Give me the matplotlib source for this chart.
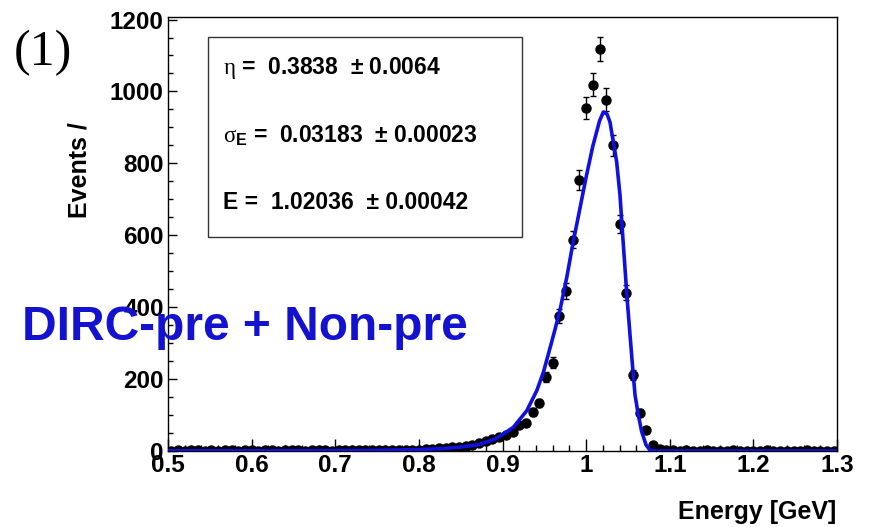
import numpy as np
import matplotlib
matplotlib.use("Agg")
import matplotlib.pyplot as plt
from matplotlib.patches import Rectangle
from matplotlib.ticker import MultipleLocator

plt.rcParams['font.family'] = ['Liberation Sans', 'DejaVu Sans']
plt.rcParams['mathtext.fontset'] = 'custom'
plt.rcParams['mathtext.rm'] = 'Liberation Serif'
plt.rcParams['mathtext.it'] = 'Liberation Serif:italic'
plt.rcParams['mathtext.bf'] = 'Liberation Sans:bold'

# histogram: 100 bins from 0.5 to 1.3 GeV
bin_edges = np.linspace(0.5, 1.3, 101)
counts = [1, 2, 1, 3, 2, 1, 2, 1, 3, 2,
          1, 2, 2, 1, 3, 2, 1, 2, 3, 2,
          1, 2, 2, 3, 1, 2, 3, 2, 4, 3,
          2, 3, 4, 3, 2, 4, 3, 4,
          5, 6, 7, 8, 10, 12, 14, 18, 23, 28,
          33, 40, 44, 54, 72, 77, 109, 134, 206, 246,
          375, 445, 588, 753,
          955, 1019, 1118, 977, 850, 632, 440, 212, 107, 58,
          17, 5, 3,
          2, 1, 2, 1, 1, 2, 1, 0, 1, 2,
          1, 1, 0, 1, 2, 1, 1, 0, 1, 1,
          2, 1, 0, 1, 1]

# fitted curve
fit_x = [0.50, 0.60, 0.70, 0.75, 0.80, 0.83, 0.85, 0.87, 0.89, 0.90,
         0.913, 0.929, 0.941, 0.949, 0.957, 0.963, 0.969, 0.977, 0.984, 0.992,
         1.000, 1.008, 1.016, 1.0206, 1.025, 1.0285, 1.0365, 1.0405, 1.0437, 1.0465,
         1.0493, 1.0525, 1.0557, 1.0585, 1.0624, 1.0664, 1.0716, 1.0764, 1.085, 1.10, 1.30]
fit_y = [0.5, 0.8, 1.2, 2, 4, 7, 11, 17, 32, 46,
         66, 112, 168, 220, 288, 340, 395, 485, 575, 668,
         762, 848, 918, 943, 937, 915, 804, 711, 600, 507,
         415, 322, 230, 155, 100, 54, 17, 2, 0, 0, 0]

fit_lines = ["$\\mathrm{\\eta}$ =  0.3838  \u00b1 0.0064",
             "$\\mathrm{\\sigma}_{\\mathbf{E}}$ =  0.03183  \u00b1 0.00023",
             "E =  1.02036  \u00b1 0.00042"]

centers = 0.5 * (bin_edges[1:] + bin_edges[:-1])
counts = np.array(counts, dtype=float)

fig = plt.figure(figsize=(8.7, 5.27), dpi=100)
ax = fig.add_axes([0.1931, 0.1442, 0.7690, 0.8235])

ax.errorbar(centers, counts, yerr=np.sqrt(counts), fmt='o', color='black',
            ms=6.5, elinewidth=1, capsize=2, capthick=1, zorder=2)
ax.plot(fit_x, fit_y, color='#1010e0', lw=2.6, solid_joinstyle='round', zorder=3)

ax.set_xlim(0.5, 1.3)
ax.set_ylim(0, 1207)
ax.xaxis.set_minor_locator(MultipleLocator(0.02))
ax.yaxis.set_major_locator(MultipleLocator(200))
ax.yaxis.set_minor_locator(MultipleLocator(50))
ax.set_xticks([0.5, 0.6, 0.7, 0.8, 0.9, 1.0, 1.1, 1.2, 1.3])
ax.set_xticklabels(['0.5', '0.6', '0.7', '0.8', '0.9', '1', '1.1', '1.2', '1.3'])
ax.tick_params(axis='both', which='both', direction='in', top=False, right=False,
               labelsize=17.5, width=1)
ax.tick_params(axis='x', which='major', length=8.5, pad=2)
ax.tick_params(axis='x', which='minor', length=4.3)
ax.tick_params(axis='y', which='major', length=6.5, pad=3)
ax.tick_params(axis='y', which='minor', length=3.6)
for lab in ax.get_xticklabels() + ax.get_yticklabels():
    lab.set_fontweight('bold')
for s in ax.spines.values():
    s.set_linewidth(1)

# parameter box
ax.add_patch(Rectangle((0.0598, 0.493), 0.469, 0.461, transform=ax.transAxes,
                       fill=False, edgecolor='#333333', lw=1, zorder=4))
for i, line in enumerate(fit_lines):
    ax.text(0.082, 0.882 - i * 0.155, line, transform=ax.transAxes,
            fontsize=16.5, fontweight='bold', va='center', ha='left', zorder=5)

fig.text(80 / 870, 1 - 122 / 527, 'Events /', rotation=90, fontsize=18,
         fontweight='bold', ha='center', va='top')
fig.text(836 / 870, 1 - 512 / 527, 'Energy [GeV]', fontsize=18,
         fontweight='bold', ha='right', va='center')
fig.text(43 / 870, 1 - 53 / 527, '(1)', family='Liberation Serif', fontsize=36,
         ha='center', va='center')
fig.text(22 / 870, 1 - 328 / 527, 'DIRC-pre + Non-pre', fontsize=34.5,
         fontweight='bold', color='#1212d0', ha='left', va='center')

fig.savefig('out.png', dpi=100)
